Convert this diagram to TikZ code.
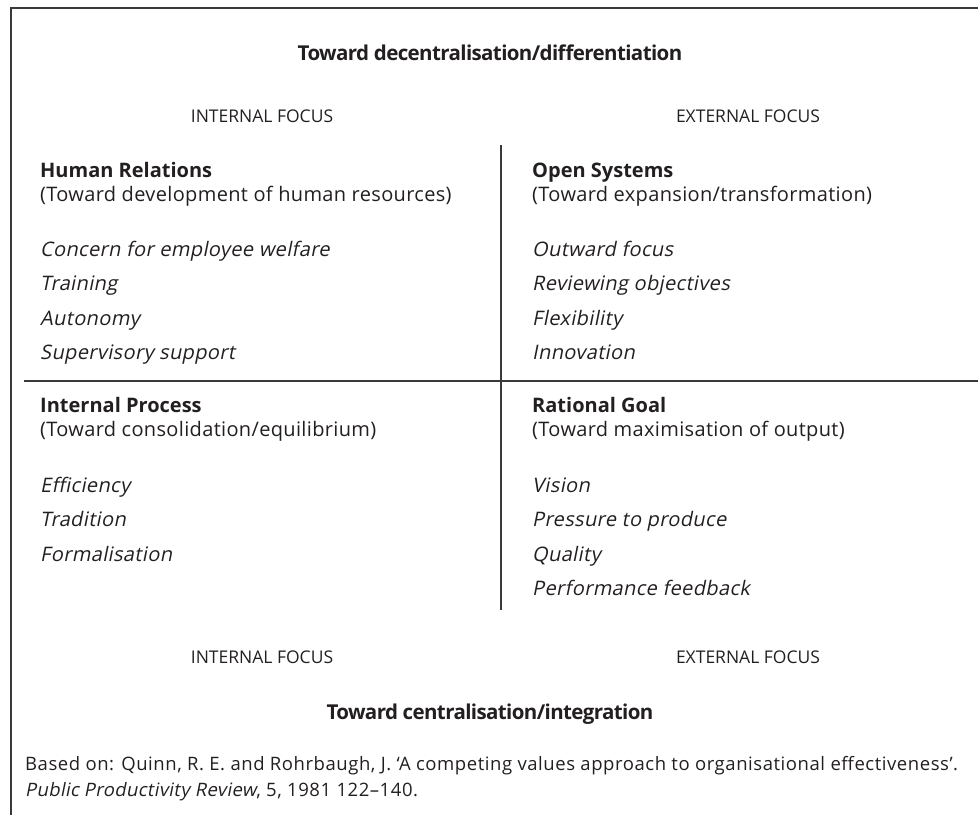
\documentclass[tikz,border=0pt]{standalone}
\usepackage{fontspec}
\setmainfont{Open Sans}
\newfontfamily\bodyfont[LetterSpace=1.7]{Open Sans}
\newfontfamily\itemfont[LetterSpace=1.8, FakeSlant=0.2]{Open Sans}
\newfontfamily\notefont[LetterSpace=3]{Open Sans}
\newfontfamily\polefont[LetterSpace=-3]{Open Sans}
\usepackage{xcolor}
\usetikzlibrary{positioning}

\definecolor{ink}{HTML}{231F20}
\definecolor{rule}{HTML}{3A3A3A}

\tikzset{
  body/.style={anchor=base west, inner sep=0pt, text=ink, font=\bodyfont\fontsize{20}{24}\selectfont},
  head/.style={body, font=\fontsize{20}{24}\selectfont\bfseries},
  item/.style={body, font=\itemfont\fontsize{20}{24}\selectfont},
  focus/.style={anchor=base, inner sep=0pt, text=ink, font=\fontsize{17.5}{21}\selectfont},
  pole/.style={anchor=base, inner sep=0pt, text=ink, font=\polefont\fontsize{20.5}{24}\selectfont\bfseries},
  note/.style={anchor=base west, inner sep=0pt, text=ink, font=\notefont\fontsize{18.5}{22}\selectfont}
}

\begin{document}
\begin{tikzpicture}[x=1pt, y=-1pt]
    \useasboundingbox (0,0) rectangle (978,815);

    % Frame
    \draw[rule, line width=2.2pt] (978,8) -- (11,8) -- (11,815);

    % Dividers
    \draw[rule, line width=1.2pt] (24,381) -- (978,381);
    \draw[rule, line width=1.2pt] (501,145) -- (501,610);

    % Poles
    \node[pole] (decent) at (490,60) {Toward decentralisation/differentiation};
    \node[pole] (cent) at (490,719) {Toward centralisation/integration};

    % Focus labels
    \node[focus] (intTop) at (262,122) {INTERNAL FOCUS};
    \node[focus] (extTop) at (748,122) {EXTERNAL FOCUS};
    \node[focus] (intBot) at (262,663) {INTERNAL FOCUS};
    \node[focus] (extBot) at (748,663) {EXTERNAL FOCUS};

    % Human Relations
    \node[head] (hr) at (40,177) {Human Relations};
    \node[body] (hrSub) at (40,201) {(Toward development of human resources)};
    \node[item] (hr1) at (40,256) {Concern for employee welfare};
    \node[item] (hr2) at (40,290) {Training};
    \node[item] (hr3) at (40,325) {Autonomy};
    \node[item] (hr4) at (40,359) {Supervisory support};

    % Open Systems
    \node[head] (os) at (532,177) {Open Systems};
    \node[body] (osSub) at (532,201) {(Toward expansion/transformation)};
    \node[item] (os1) at (532,256) {Outward focus};
    \node[item] (os2) at (532,290) {Reviewing objectives};
    \node[item] (os3) at (532,325) {Flexibility};
    \node[item] (os4) at (532,359) {Innovation};

    % Internal Process
    \node[head] (ip) at (40,412) {Internal Process};
    \node[body] (ipSub) at (40,436) {(Toward consolidation/equilibrium)};
    \node[item] (ip1) at (40,492) {Efficiency};
    \node[item] (ip2) at (40,526) {Tradition};
    \node[item] (ip3) at (40,561) {Formalisation};

    % Rational Goal
    \node[head] (rg) at (532,412) {Rational Goal};
    \node[body] (rgSub) at (532,436) {(Toward maximisation of output)};
    \node[item] (rg1) at (532,492) {Vision};
    \node[item] (rg2) at (532,526) {Pressure to produce};
    \node[item] (rg3) at (532,561) {Quality};
    \node[item] (rg4) at (532,595) {Performance feedback};

    % Source
    \node[note] (src1) at (25,770) {Based on: Quinn, R. E. and Rohrbaugh, J. ‘A competing values approach to organisational effectiveness’.};
    \node[note] (src2) at (25,796) {{\itemfont Public Productivity Review}, 5, 1981 122–140.};
\end{tikzpicture}
\end{document}
